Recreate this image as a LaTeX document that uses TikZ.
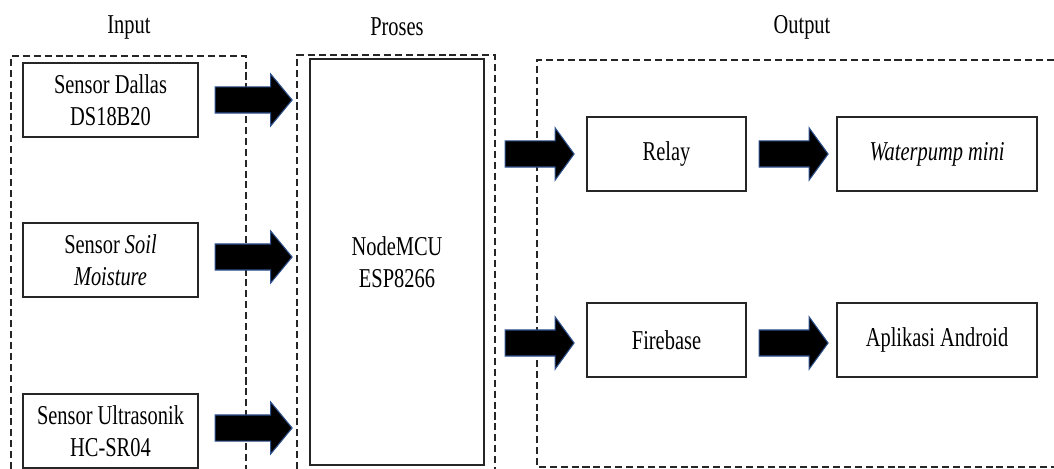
\documentclass[tikz,border=0pt]{standalone}
\usepackage{fontspec}
\setmainfont[FakeStretch=0.75]{Liberation Serif}
\usetikzlibrary{shapes.arrows,positioning,calc}
\definecolor{arrline}{HTML}{2F528F}
\definecolor{edge}{HTML}{262626}
\tikzset{box/.style={draw=edge,line width=.7pt,align=center,font=\fontsize{15.5}{18.3}\selectfont,inner sep=0pt},
grp/.style={draw=black!85,line width=.6pt,dash pattern=on 4pt off 2.2pt},
ttl/.style={font=\fontsize{15.5}{18.3}\selectfont},
fat/.style={single arrow,draw=arrline,fill=black,line width=.6pt,inner sep=0pt,text height=.5cm,text depth=0pt,single arrow head extend=.26cm,single arrow tip angle=101,minimum height=1.54cm,anchor=tail},
fatout/.style={fat,minimum height=1.38cm,single arrow tip angle=108}}

\begin{document}
\begin{tikzpicture}[x=.02cm,y=-.02cm]
\useasboundingbox (0,0) rectangle (1054,469);
\node[ttl] (tin) at (129,27){Input};
\node[ttl] (tpro) at (397,27){Proses};
\node[ttl] (tout) at (802,27){Output};
\draw[grp] (11,469) |- (246,56) -- (246,469);
\draw[grp] (297,469) |- (495,55) -- (495,469);
\draw[grp] (1054,60) -| (537,467) -- (1054,467);
\node[box,minimum width=3.5cm,minimum height=1.48cm] (dallas) at (110.5,100){Sensor Dallas\\DS18B20};
\node[box,minimum width=3.5cm,minimum height=1.48cm] (soil) at (110.5,260){Sensor \textit{Soil}\\\textit{Moisture}};
\node[box,minimum width=3.5cm,minimum height=1.48cm] (ultra) at (110.5,431){Sensor Ultrasonik\\HC-SR04};
\node[box,minimum width=3.48cm,minimum height=8.12cm] (mcu) at (397,262){NodeMCU\\ESP8266};
\node[box,minimum width=3.18cm,minimum height=1.48cm] (relay) at (666.5,154){Relay};
\node[box,minimum width=4cm,minimum height=1.48cm] (pump) at (937,154){\textit{Waterpump mini}};
\node[box,minimum width=3.18cm,minimum height=1.48cm] (fire) at (666.5,340){Firebase};
\node[box,minimum width=4cm,minimum height=1.48cm] (app) at (937,340){Aplikasi Android};
\path (dallas.east) -- (dallas.east -| mcu.west) node[pos=0,fat,xshift=.32cm] (a1){};
\path (soil.east) -- (soil.east -| mcu.west) node[pos=0,fat,xshift=.32cm,yshift=.06cm] (a2){};
\path (ultra.east) -- (ultra.east -| mcu.west) node[pos=0,fat,xshift=.32cm,yshift=.06cm] (a3){};
\path (relay.west -| mcu.east) -- (relay.west) node[pos=0,fatout,xshift=.4cm] (a4){};
\path (fire.west -| mcu.east) -- (fire.west) node[pos=0,fatout,xshift=.4cm,yshift=-.06cm] (a5){};
\path (relay.east) -- (pump.west) node[pos=0,fatout,xshift=.24cm] (a6){};
\path (fire.east) -- (app.west) node[pos=0,fatout,xshift=.24cm,yshift=-.06cm] (a7){};
\end{tikzpicture}
\end{document}
